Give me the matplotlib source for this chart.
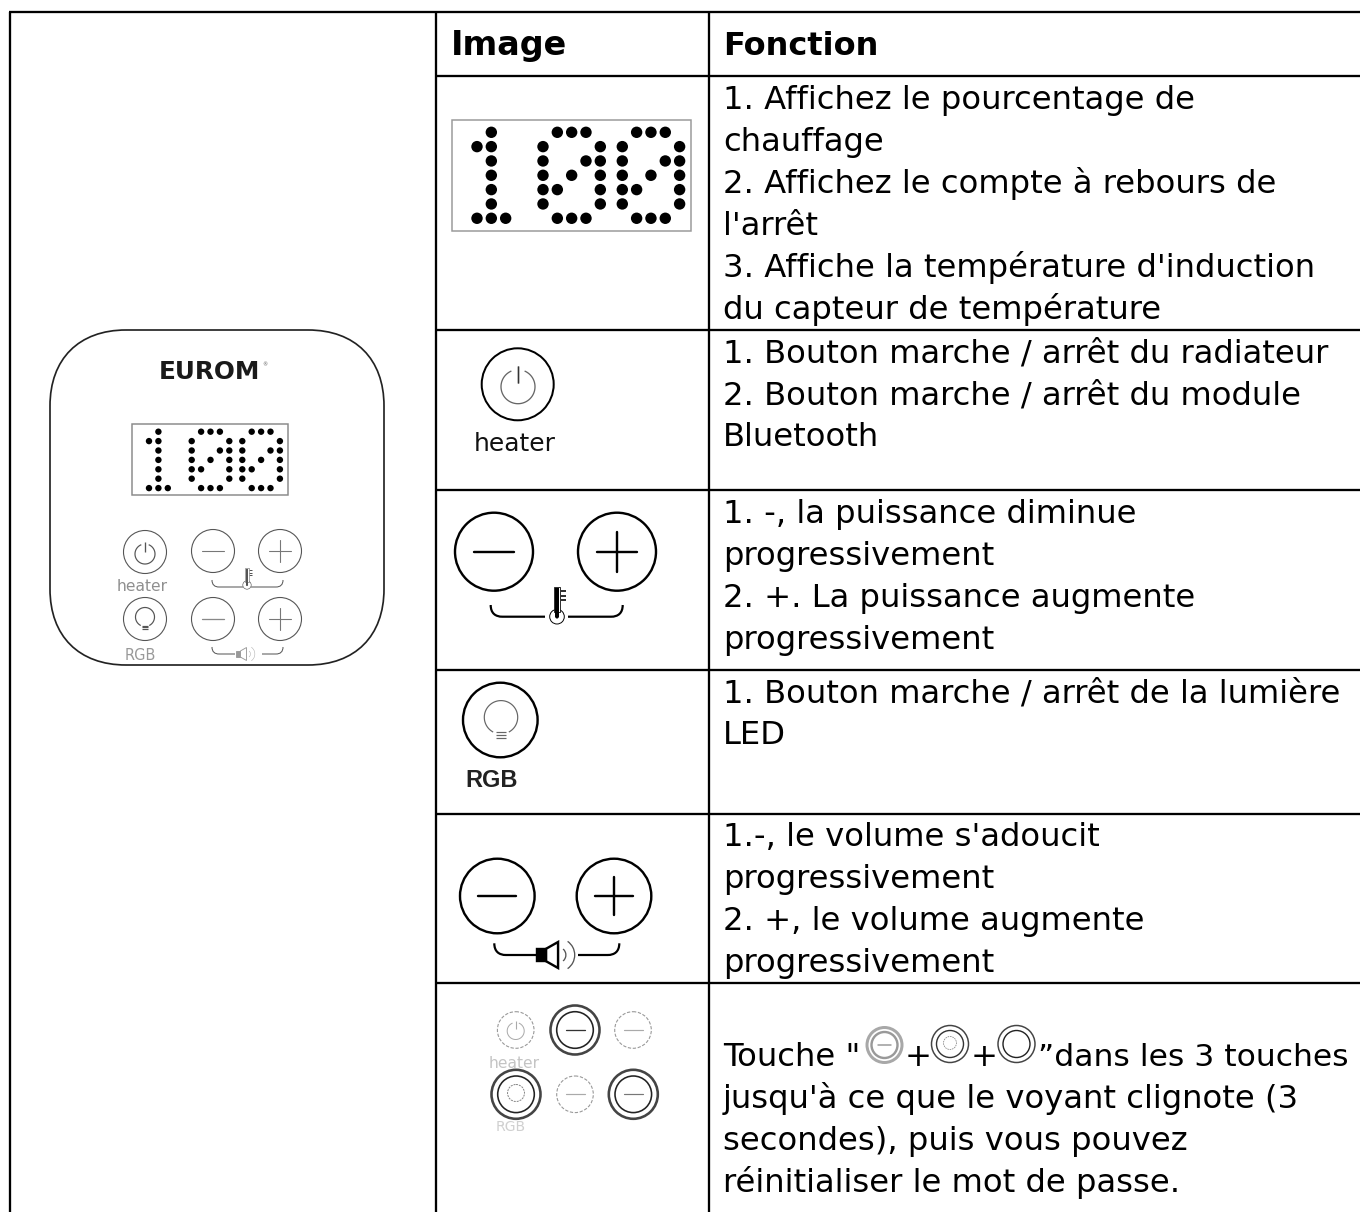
import numpy as np
import matplotlib
matplotlib.use("Agg")
import matplotlib.pyplot as plt
from matplotlib.patches import Circle, Rectangle, PathPatch, Arc, Polygon
from matplotlib.path import Path

W, H = 1360, 1212
PX = 0.72  # points per pixel at dpi 100

# ---------- table content ----------
header_labels = ["Image", "Fonction"]
row_1_lines = ["1. Affichez le pourcentage de", "chauffage", "2. Affichez le compte à rebours de",
               "l'arrêt", "3. Affiche la température d'induction", "du capteur de température"]
row_2_lines = ["1. Bouton marche / arrêt du radiateur", "2. Bouton marche / arrêt du module", "Bluetooth"]
row_3_lines = ["1. -, la puissance diminue", "progressivement", "2. +. La puissance augmente", "progressivement"]
row_4_lines = ["1. Bouton marche / arrêt de la lumière", "LED"]
row_5_lines = ["1.-, le volume s'adoucit", "progressivement", "2. +, le volume augmente", "progressivement"]
row_6_lines = ["jusqu'à ce que le voyant clignote (3", "secondes), puis vous pouvez", "réinitialiser le mot de passe."]
row_6_first = ["Touche \"", "+", "+", "\u201ddans les 3 touches"]
row_1_base = [109, 151, 193, 235, 277, 319]
row_2_base = [362, 404, 446]
row_3_base = [523, 565, 607, 649]
row_4_base = [702, 744]
row_5_base = [846, 888, 930, 972]
row_6_base = [1108, 1150, 1192]

grid_y = [12, 76, 330, 490, 670, 814, 983]
grid_x = [10, 436, 709]

digit_one = ["01000", "11000", "01000", "01000", "01000", "01000", "11100"]
digit_zero = ["01110", "10001", "10011", "10101", "11001", "10001", "01110"]
display_digits = [digit_one, digit_zero, digit_zero]

fig = plt.figure(figsize=(13.6, 12.12), dpi=100)
ax = fig.add_axes([0, 0, 1, 1])
ax.set_xlim(0, W)
ax.set_ylim(H, 0)
ax.axis("off")
FS = 32.3 * PX


def line(xs, ys, lw=2.0, c="black", **kw):
    ax.plot(xs, ys, color=c, lw=lw * PX, solid_capstyle=kw.pop("cap", "butt"), **kw)


def ring(x, y, r, lw=2.0, c="black", **kw):
    ax.add_patch(Circle((x, y), r, fill=False, ec=c, lw=lw * PX, **kw))


def display(x0, y0, w, h, ox, oy, pitch, r, ec):
    ax.add_patch(Rectangle((x0, y0), w, h, fill=False, ec=ec, lw=1.5 * PX))
    for digit, x in zip(display_digits, ox):
        for j, row in enumerate(digit):
            for i, on in enumerate(row):
                if on == "1":
                    ax.add_patch(Circle((x + i * pitch, oy + j * pitch), r, fc="black", ec="none"))


def power(x, y, r, c, lw):
    t = np.radians(np.linspace(-65, 245, 90))
    ax.plot(x + r * np.cos(t), y + r * np.sin(t), color=c, lw=lw * PX)
    line([x, x], [y - 1.22 * r, y - 0.22 * r], lw=lw * 1.1, c=c)


def bulb(x, y, r, c, lw):
    t = np.radians(np.linspace(120, 420, 90))
    ax.plot(x + r * np.cos(t), y + r * np.sin(t), color=c, lw=lw * PX)
    for k in (0.9, 1.07, 1.24):
        line([x - 0.3 * r, x + 0.3 * r], [y + k * r, y + k * r], lw=lw, c=c)


def minus(x, y, r, c, lw):
    line([x - r, x + r], [y, y], lw=lw, c=c, cap="round")


def plus(x, y, r, c, lw):
    minus(x, y, r, c, lw)
    line([x, x], [y - r, y + r], lw=lw, c=c, cap="round")


def bracket(xa, xb, xc, xd, ytop, ybot, lw, c):
    rad = ybot - ytop
    codes = [Path.MOVETO, Path.CURVE4, Path.CURVE4, Path.CURVE4, Path.LINETO]
    verts = [(xa, ytop), (xa, ytop + 0.7 * rad), (xa + 0.4 * rad, ybot), (xa + rad, ybot), (xb, ybot)]
    ax.add_patch(PathPatch(Path(verts, codes), fill=False, ec=c, lw=lw * PX))
    verts = [(xd, ytop), (xd, ytop + 0.7 * rad), (xd - 0.4 * rad, ybot), (xd - rad, ybot), (xc, ybot)]
    ax.add_patch(PathPatch(Path(verts, codes), fill=False, ec=c, lw=lw * PX))


def thermo(x, yb, s, c, lw):
    # bulb centred at (x, yb); s = bulb radius
    ax.add_patch(Circle((x, yb), s, fc="white", ec=c, lw=0.6 * lw * PX, zorder=3))
    ax.add_patch(Rectangle((x - 0.45 * s, yb - 4.1 * s), 0.9 * s, 3.4 * s, fc="white", ec=c, lw=0.5 * lw * PX, zorder=3))
    ax.add_patch(Rectangle((x - 0.22 * s, yb - 3.9 * s), 0.44 * s, 3.9 * s, fc=c, ec="none", zorder=4))
    ax.add_patch(Circle((x, yb), 0.25 * s, fc=c, ec="none", zorder=4))
    for k in (3.5, 2.9, 2.3):
        line([x + 0.5 * s, x + 1.25 * s], [yb - k * s, yb - k * s], lw=1.0 * lw, c=c)


def speaker(x, y, s, c, lw, arc_c):
    # x = left edge of the box, y = centre line, s = half height of the cone
    ax.add_patch(Rectangle((x, y - 0.48 * s), 0.7 * s, 0.96 * s, fc=c, ec=c, lw=lw * PX))
    ax.add_patch(Polygon([(x + 0.7 * s, y - 0.48 * s), (x + 1.62 * s, y - s),
                          (x + 1.62 * s, y + s), (x + 0.7 * s, y + 0.48 * s)],
                         closed=True, fc="white", ec=c, lw=lw * PX))
    for k, a in ((0.6, 50), (1.28, 55)):
        ax.add_patch(Arc((x + 1.62 * s, y), 2 * k * s, 2 * k * s, theta1=-a, theta2=a, ec=arc_c, lw=0.55 * lw * PX))


# ---------- grid ----------
for y in grid_y:
    x0 = grid_x[0] - 1 if y == grid_y[0] else grid_x[1]
    line([x0, W], [y, y], lw=2.3)
for x in grid_x:
    line([x, x], [grid_y[0], H], lw=2.3)

# ---------- header ----------
hdr_x = [451, 723]
hdr_fs = [33.4 * PX, 32.0 * PX]
for x, s, fs in zip(hdr_x, header_labels, hdr_fs):
    ax.text(x, 55, s, fontsize=fs, fontweight="bold", family="DejaVu Sans", va="baseline", ha="left")

# ---------- function column ----------
for lines, bases in ((row_1_lines, row_1_base), (row_2_lines, row_2_base), (row_3_lines, row_3_base),
                     (row_4_lines, row_4_base), (row_5_lines, row_5_base), (row_6_lines, row_6_base)):
    for s, b in zip(lines, bases):
        ax.text(723, b, s, fontsize=FS, family="DejaVu Sans", va="baseline", ha="left")

ax.text(723, 1066, row_6_first[0], fontsize=FS, family="DejaVu Sans", va="baseline", ha="left")
ax.text(918, 1066, row_6_first[1], fontsize=FS, family="DejaVu Sans", va="baseline", ha="center")
ax.text(984, 1066, row_6_first[2], fontsize=FS, family="DejaVu Sans", va="baseline", ha="center")
ax.text(1038, 1066, row_6_first[3], fontsize=31.4 * PX, family="DejaVu Sans", va="baseline", ha="left")
# inline icons
ring(884.5, 1045, 17.5, lw=3.0, c="#a8a8a8")
ring(884.5, 1045, 13, lw=2.4, c="#999999")
minus(884.5, 1045, 6.5, "#999999", 1.5)
ring(950, 1044, 18.5, lw=1.5, c="#444444")
ring(950, 1044, 13.5, lw=1.4, c="#333333")
ring(950, 1043, 6.5, lw=0.8, c="#888888", ls=(0, (2, 1)))
ring(1016.5, 1044, 18.5, lw=1.5, c="#444444")
ring(1016.5, 1044, 13.5, lw=1.4, c="#222222")

# ---------- left panel ----------
x0, x1, y0, y1, r = 50, 384, 330, 665, 76
k = 0.62 * r
verts = [(x0 + r, y0), (x1 - r, y0), (x1 - r + k, y0), (x1, y0 + r - k), (x1, y0 + r),
         (x1, y1 - r), (x1, y1 - r + k), (x1 - r + k, y1), (x1 - r, y1),
         (x0 + r, y1), (x0 + r - k, y1), (x0, y1 - r + k), (x0, y1 - r),
         (x0, y0 + r), (x0, y0 + r - k), (x0 + r - k, y0), (x0 + r, y0)]
codes = [Path.MOVETO, Path.LINETO, Path.CURVE4, Path.CURVE4, Path.CURVE4,
         Path.LINETO, Path.CURVE4, Path.CURVE4, Path.CURVE4,
         Path.LINETO, Path.CURVE4, Path.CURVE4, Path.CURVE4,
         Path.LINETO, Path.CURVE4, Path.CURVE4, Path.CURVE4]
ax.add_patch(PathPatch(Path(verts, codes), fill=False, ec="#222222", lw=1.7 * PX))
ax.text(159, 379, "EUROM", fontsize=24.8 * PX, fontweight="bold", family="DejaVu Sans", va="baseline", ha="left", color="#1a1a1a")
ax.text(262, 365, "®", fontsize=5 * PX, family="DejaVu Sans", va="center", ha="left", color="#555555")
display(132, 424, 156, 71, [149, 191.7, 242.3], 431.7, 9.4, 3.2, "#8a8a8a")

GR = "#555555"
for cx, cy in ((145, 552), (213, 551), (280, 551), (145, 619), (213, 619), (280, 619)):
    ring(cx, cy, 21.5, lw=1.1, c=GR)
power(145, 554, 10, GR, 1.2)
minus(213, 551, 11, "#777777", 1.1)
plus(280, 551, 11, "#777777", 1.1)
bulb(145, 617, 9.5, GR, 1.2)
minus(213, 619, 11, "#888888", 1.3)
plus(280, 619, 11, "#777777", 1.1)
ax.text(142.5, 591, "heater", fontsize=15.5 * PX, family="DejaVu Sans", color="#8f8f8f", ha="center", va="baseline")
ax.text(140, 659.5, "RGB", fontsize=14.5 * PX, family="DejaVu Sans", color="#999999", ha="center", va="baseline")
bracket(212, 243, 251, 283, 580, 587, 1.0, GR)
thermo(247, 585, 4.2, "#555555", 1.0)
bracket(212, 235, 262, 283, 647, 654, 1.0, GR)
speaker(236, 654, 6.5, "#999999", 0.9, "#aaaaaa")

# ---------- image column ----------
display(452, 120, 239, 110.5, [477, 543, 622.3], 132.3, 14.33, 5.7, "#999999")

ring(517.7, 384.3, 36, lw=2.0)
power(518, 386.7, 17, "#666666", 1.3)
line([518, 518], [366, 383], lw=1.4, c="#333333")
ax.text(514.5, 451, "heater", fontsize=25 * PX, family="DejaVu Sans", ha="center", va="baseline", color="#111111")

ring(494, 551.7, 39, lw=2.4)
minus(494, 551.7, 20, "black", 2.4)
ring(617, 551.7, 39, lw=2.4)
plus(617, 551.7, 20, "black", 2.4)
bracket(490.7, 545, 568, 622.7, 605, 616.7, 2.2, "black")
thermo(557, 616.7, 7.3, "black", 1.6)

ring(500.3, 720, 37.3, lw=2.4)
bulb(501, 717.3, 16.7, "#666666", 1.2)
ax.text(491.5, 787, "RGB", fontsize=23.5 * PX, fontweight="bold", family="Liberation Sans", ha="center", va="baseline", color="#222222")

ring(497.3, 896, 37.3, lw=2.4)
minus(497.3, 896, 19, "black", 2.4)
ring(614, 896, 37.3, lw=2.4)
plus(614, 896, 19, "black", 2.4)
bracket(494.3, 536.7, 578, 619.3, 943.3, 955, 2.2, "black")
speaker(537, 955, 13, "black", 2.4, "#555555")

# row 6 composite image
DASH = (0, (3, 1.5))
for cx, cy in ((515.7, 1030), (633, 1030), (575, 1094.3)):
    ring(cx, cy, 18.3, lw=1.1, c="#999999", ls=DASH)
power(515.7, 1031, 8.5, "#aaaaaa", 1.0)
minus(633, 1030, 9.5, "#aaaaaa", 1.2)
minus(575, 1094.3, 9.5, "#aaaaaa", 1.2)
for cx, cy in ((575, 1030), (516, 1094.3), (633.3, 1094.3)):
    ring(cx, cy, 24.5, lw=2.6, c="#444444")
    ring(cx, cy, 18.3, lw=1.6, c="#222222")
minus(575, 1030, 9.5, "#333333", 1.3)
minus(633.3, 1094.3, 9.5, "#777777", 1.2)
ring(516, 1093, 8.5, lw=1.0, c="#888888", ls=(0, (2, 1)))
ax.text(514.5, 1068, "heater", fontsize=15.5 * PX, family="DejaVu Sans", color="#c4c4c4", ha="center", va="baseline")
ax.text(511, 1131, "RGB", fontsize=14 * PX, family="DejaVu Sans", color="#d0d0d0", ha="center", va="baseline")

fig.savefig("out.png", dpi=100)
